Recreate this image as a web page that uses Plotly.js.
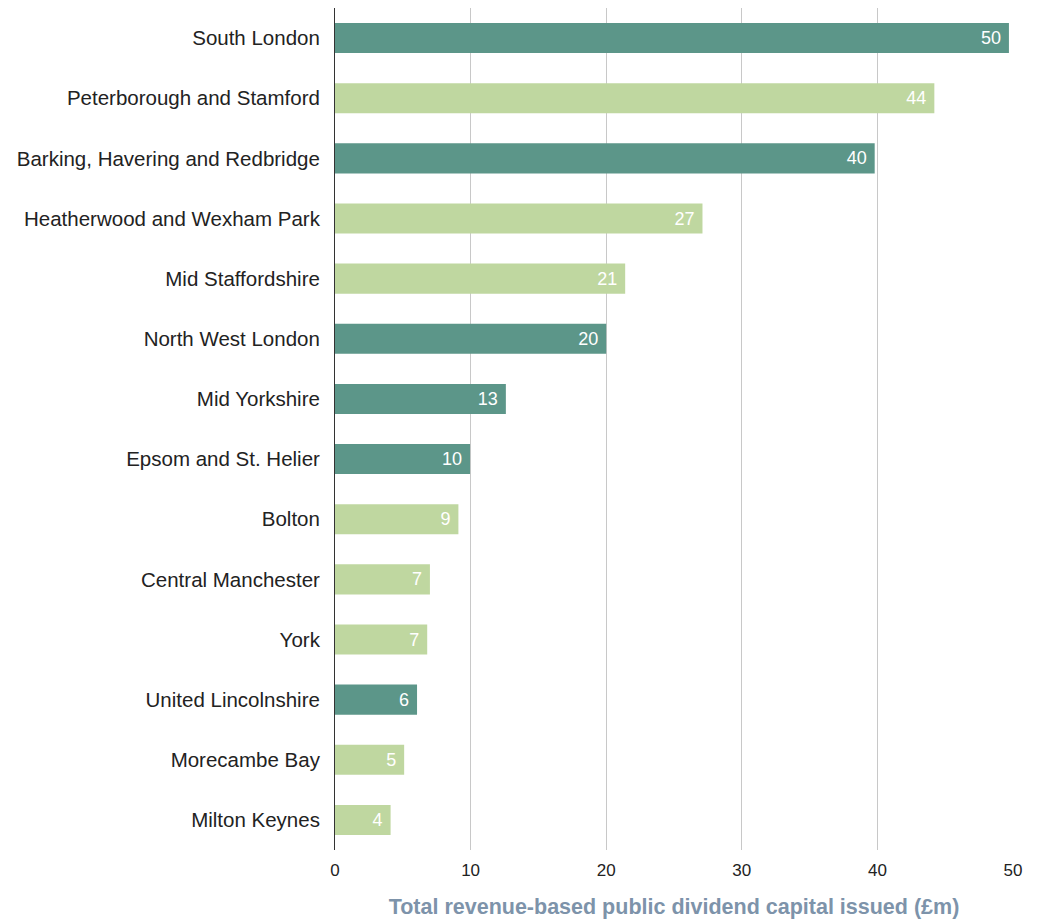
<!DOCTYPE html>
<html><head><meta charset="utf-8">
<script src="https://cdn.plot.ly/plotly-3.0.1.min.js"></script>
<style>html,body{margin:0;padding:0;background:#fff}#chart{width:1040px;height:919px}</style>
</head><body><div id="chart"></div>
<script>
const categories = ["South London","Peterborough and Stamford","Barking, Havering and Redbridge","Heatherwood and Wexham Park","Mid Staffordshire","North West London","Mid Yorkshire","Epsom and St. Helier","Bolton","Central Manchester","York","United Lincolnshire","Morecambe Bay","Milton Keynes"];
const values = [49.7,44.2,39.8,27.1,21.4,20.0,12.6,9.96,9.1,7.0,6.8,6.05,5.1,4.1];
const groups = ["dark","light","dark","light","light","dark","dark","dark","light","light","light","dark","light","light"];
const colorMap = {dark:"#5c9689", light:"#bfd7a0"};

const trace = {
  type:"bar", orientation:"h",
  y: categories, x: values,
  marker:{color: groups.map(g=>colorMap[g])},
  width: 0.5,
  text: values.map(v=>String(Math.round(v)) + "\u00a0"),
  textposition:"inside", insidetextanchor:"end",
  textfont:{family:"Liberation Sans, Arial, sans-serif", size:18, color:"#ffffff"},
  hoverinfo:"none"
};
const layout = {
  width:1040, height:919,
  margin:{l:335, r:27, t:8, b:69},
  paper_bgcolor:"#fff", plot_bgcolor:"#fff",
  showlegend:false,
  xaxis:{range:[0,50], tickvals:[0,10,20,30,40,50], showgrid:true, gridcolor:"#c8c8c8", gridwidth:1,
    zeroline:false, showline:false, ticks:"", ticklen:0, ticklabelstandoff:8,
    tickfont:{family:"Liberation Sans, Arial, sans-serif", size:17, color:"#222"},
    title:{text:"<b>Total revenue-based public dividend capital issued (£m)</b>", standoff:22,
      font:{family:"Liberation Sans, Arial, sans-serif", size:21.5, color:"#7d93aa"}}},
  yaxis:{autorange:"reversed", showline:true, linecolor:"#333", linewidth:1, ticks:"",
    ticklabelstandoff:10,
    tickfont:{family:"Liberation Sans, Arial, sans-serif", size:20.5, color:"#222"}},
  font:{family:"Liberation Sans, Arial, sans-serif"}
};
Plotly.newPlot("chart",[trace],layout,{displayModeBar:false,staticPlot:true});
</script></body></html>
